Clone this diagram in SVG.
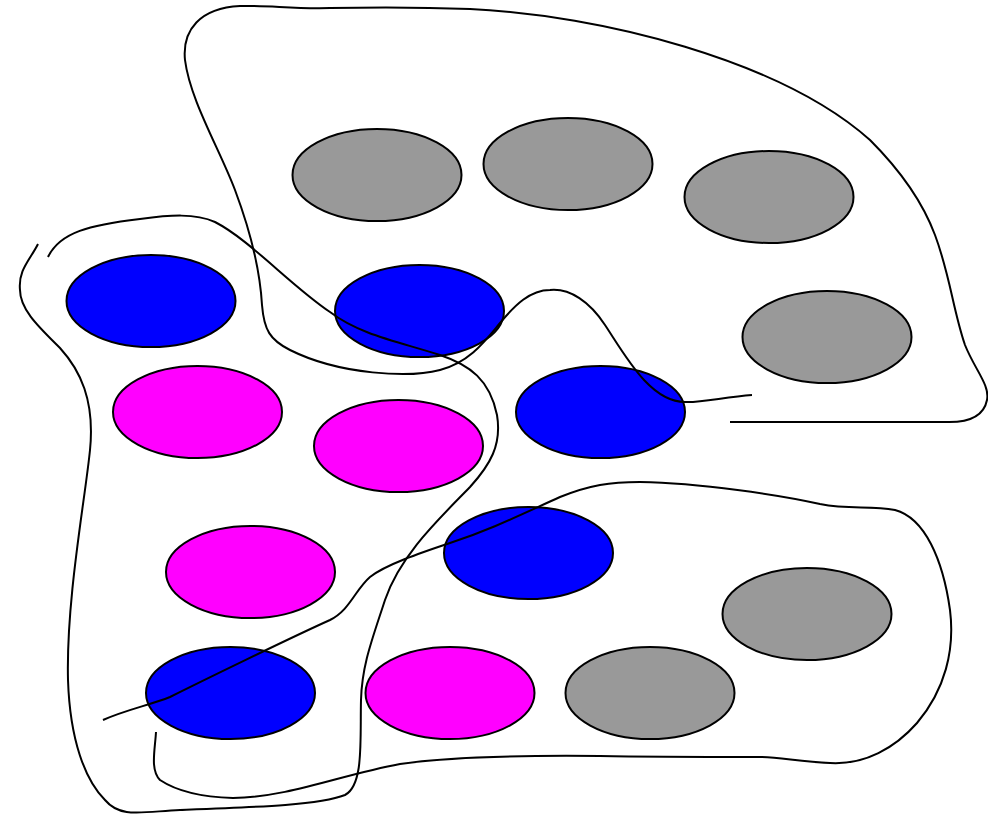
<svg xmlns="http://www.w3.org/2000/svg" width="988" height="816" viewBox="0 0 988 816">
<style>
.n{stroke:#000;stroke-width:2}
.g{fill:#999999}
.b{fill:#0000ff}
.m{fill:#ff00ff}
.c{fill:none;stroke:#000;stroke-width:2}
</style>
<rect width="988" height="816" fill="#fff"/>
<g id="nodes">
<g id="g1"><ellipse class="n g" cx="377" cy="175" rx="84.5" ry="46"/></g>
<g id="g2"><ellipse class="n g" cx="568" cy="164" rx="84.5" ry="46"/></g>
<g id="g3"><ellipse class="n g" cx="769" cy="197" rx="84.5" ry="46"/></g>
<g id="g4"><ellipse class="n g" cx="827" cy="337" rx="84.5" ry="46"/></g>
<g id="g5"><ellipse class="n g" cx="807" cy="614" rx="84.5" ry="46"/></g>
<g id="g6"><ellipse class="n g" cx="650" cy="693" rx="84.5" ry="46"/></g>
<g id="b1"><ellipse class="n b" cx="151" cy="301" rx="84.5" ry="46"/></g>
<g id="b2"><ellipse class="n b" cx="419.5" cy="311" rx="84.5" ry="46"/></g>
<g id="b3"><ellipse class="n b" cx="600.5" cy="412" rx="84.5" ry="46"/></g>
<g id="b4"><ellipse class="n b" cx="528.5" cy="553" rx="84.5" ry="46"/></g>
<g id="b5"><ellipse class="n b" cx="230.5" cy="693" rx="84.5" ry="46"/></g>
<g id="m1"><ellipse class="n m" cx="197.5" cy="412" rx="84.5" ry="46"/></g>
<g id="m2"><ellipse class="n m" cx="398.5" cy="446" rx="84.5" ry="46"/></g>
<g id="m3"><ellipse class="n m" cx="250.5" cy="572" rx="84.5" ry="46"/></g>
<g id="m4"><ellipse class="n m" cx="450" cy="693" rx="84.5" ry="46"/></g>
</g>
<g id="connectors">
<path class="c" d="M752,395 C725,397 700,403 685,402 C650,402 625,355 605,325 C590,302 570,288 550,290 C530,290 515,305 500,323 C485,341 470,362 440,370 C410,378 340,375 290,350 C270,340 264,330 262,305 C260,270 250,230 235,190 C220,150 190,100 185,60 C182,30 200,8 240,6 C270,5 290,9 330,8 C380,7 420,7 470,9 C600,15 780,60 870,140 C895,165 920,195 935,235 C950,275 953,310 965,345 C975,370 990,385 987,400 C984,415 970,423 945,422 L730,422"/>
<path class="c" d="M48,257 C60,232 90,225 140,219 C170,215 195,213 215,222 C250,240 290,285 330,312 C360,335 400,342 440,355 C470,365 490,380 497,415 C502,445 490,465 470,487 C440,518 400,555 385,600 C372,640 362,665 361,700 C360,740 364,785 345,795 C320,805 260,807 180,810 C140,812 120,818 105,800 C85,780 70,740 68,680 C66,600 85,500 90,450 C95,400 80,370 60,348 C40,328 20,310 20,290 C18,270 30,260 38,244"/>
<path class="c" d="M103,720 C125,710 150,705 170,697 C200,682 290,638 330,620 C350,610 355,590 370,577 C385,565 420,553 450,543 C490,530 520,515 560,497 C590,485 610,482 640,482 C700,483 780,495 820,504 C850,510 870,505 895,510 C925,518 943,560 950,610 C955,650 945,690 917,723 C895,748 865,765 830,763 C800,762 780,757 760,757 C700,757 650,757 600,756 C500,755 440,758 400,764 C340,775 290,797 233,798 C200,797 175,790 160,780 C150,770 155,750 156,732"/>
</g>
</svg>
